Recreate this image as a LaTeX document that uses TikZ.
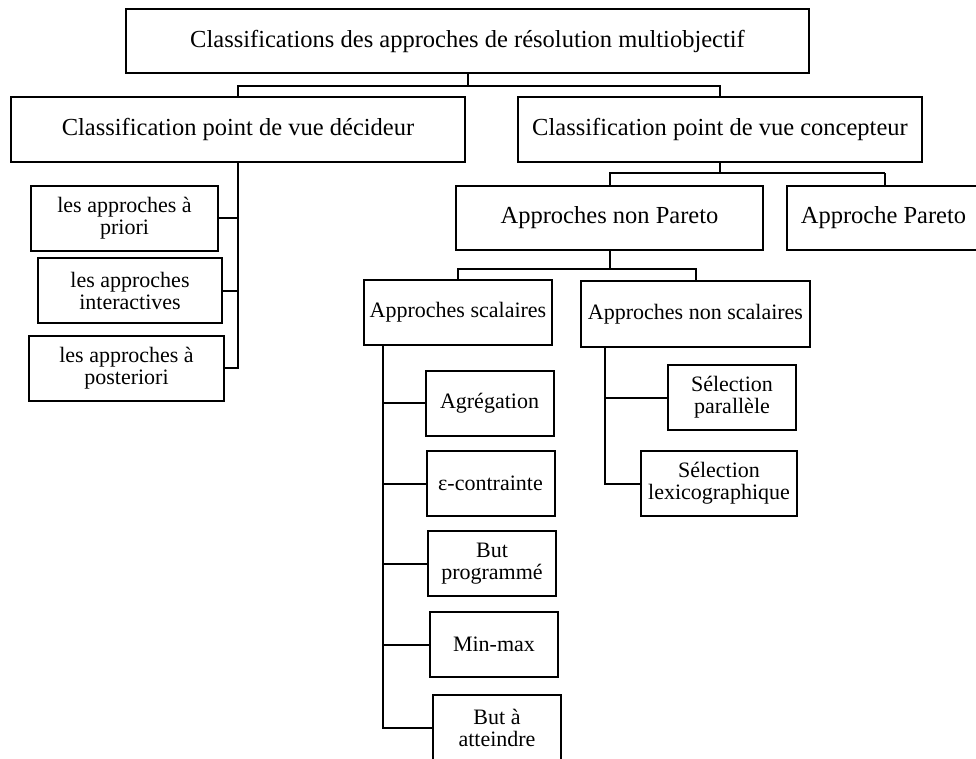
\documentclass[tikz,border=0pt]{standalone}
\usepackage{fontspec}
\setmainfont{Liberation Serif}
\usetikzlibrary{positioning}
\tikzstyle{box}=[rectangle, draw=black, line width=2pt, inner sep=0pt, align=center, minimum height=65pt]
\tikzstyle{big}=[box, font=\fontsize{24.5}{24.5}\selectfont]
\tikzstyle{small}=[box, font=\fontsize{22}{22}\selectfont]
\tikzstyle{link}=[line width=2pt]

\begin{document}
\begin{tikzpicture}[x=1pt, y=-1pt]
    \useasboundingbox (0,0) rectangle (976,758);
    %Root of the classification
    \node[big, minimum width=683pt, minimum height=64pt](root) at (467.5,41){Classifications des approches de résolution multiobjectif};

    %Two points of view
    \foreach \n/\x/\w/\t in {dec/238/454/{Classification point de vue décideur}, con/720/404/{Classification point de vue concepteur}}{
        \node[big, minimum width=\w pt](\n) at (\x,129.5){\t};
    }
    \coordinate (j1) at (root.south |- 0,86);
    \draw[link] (root.south) -- (j1);
    \draw[link] (j1) -| (dec.north);
    \draw[link] (j1) -| (con.north);

    %Decision maker side
    \foreach \n/\x/\y/\w/\t in {pri/124.5/218/187/{les approches à\\priori}, int/130/290.5/184/{les approches\\interactives}, pos/126.5/368/195/{les approches à\\posteriori}}{
        \node[small, minimum width=\w pt](\n) at (\x,\y){\t};
        \draw[link] (dec.south) |- (\n.east);
    }

    %Designer side
    \node[big, minimum width=307pt, minimum height=64pt](nonpar) at (609.5,218){Approches non Pareto};
    \node[big, minimum width=210pt, minimum height=64pt, anchor=west](par) at (786,218){Approche Pareto\rule{17pt}{0pt}};
    \coordinate (j2) at (885,173);
    \draw[link] (con.south) |- (j2);
    \draw[link] (j2) -| (nonpar.north);
    \draw[link] (j2) -- (j2 |- par.north);

    %Non Pareto approaches
    \node[small, minimum width=188pt](sca) at (458,312.5){Approches scalaires};
    \node[small, minimum width=229pt, minimum height=66pt](nsc) at (695.5,314){Approches non scalaires};
    \coordinate (j3) at (nonpar.south |- 0,269);
    \draw[link] (nonpar.south) -- (j3);
    \draw[link] (j3) -| (sca.north);
    \draw[link] (j3) -| (nsc.north);

    %Scalar methods
    \coordinate (sa) at ([xshift=20pt]sca.south west);
    \foreach \n/\x/\y/\t in {agr/489.5/403/{Agrégation}, eps/490.5/483.5/{ε-contrainte}, but/492/563.5/{But\\programmé}, min/494/644.5/{Min-max}, att/497/727.5/{But à\\atteindre}}{
        \node[small, minimum width=128pt](\n) at (\x,\y){\t};
        \draw[link] (sa) |- (\n.west);
    }

    %Non scalar methods
    \coordinate (na) at ([xshift=25pt]nsc.south west);
    \foreach \n/\x/\y/\w/\t in {sel1/732/397.5/128/{Sélection\\parallèle}, sel2/719/483.5/156/{Sélection\\lexicographique}}{
        \node[small, minimum width=\w pt](\n) at (\x,\y){\t};
        \draw[link] (na) |- (\n.west);
    }
\end{tikzpicture}
\end{document}
